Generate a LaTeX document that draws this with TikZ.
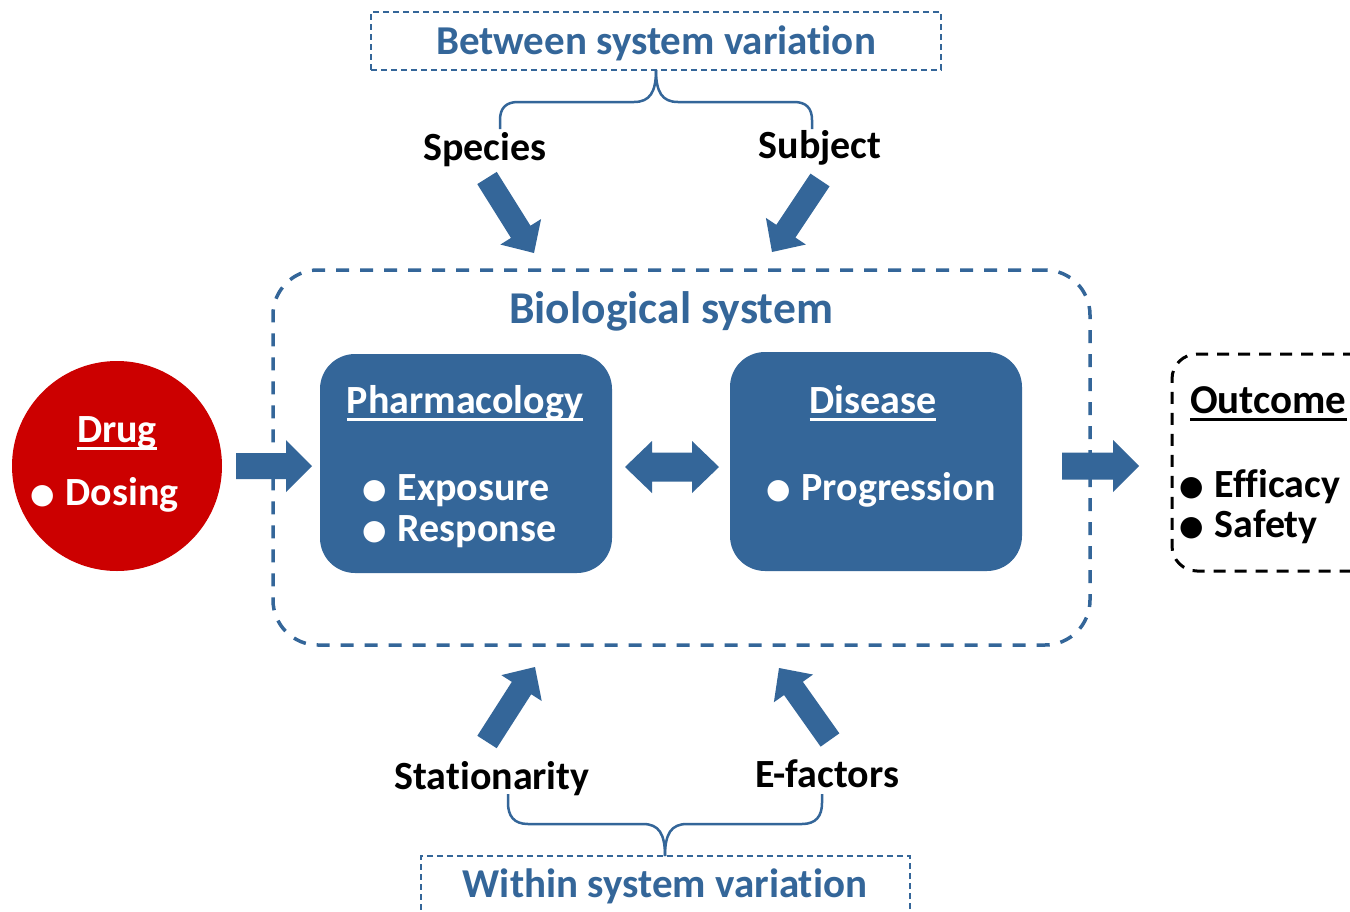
\documentclass[tikz,border=0pt]{standalone}
\usepackage{fontspec}
\setmainfont[Ligatures=NoCommon]{Carlito}
\newfontfamily\symf{DejaVu Sans}
\usetikzlibrary{calc}
\definecolor{sysblue}{RGB}{52,102,153}
\definecolor{drugred}{RGB}{204,0,0}
\newcommand\ulin[1]{\setbox0=\hbox{#1}\rlap{\rule[-0.2em]{\wd0}{0.075em}}\box0}
\newcommand\bul{\raisebox{0.03em}{\symf\fontsize{28}{28}\selectfont ●}\hspace{11pt}}
\newcommand\blockarrow[5]{%
  \coordinate (ba-n) at ($(#2)!#5!(#1)$);
  \fill[sysblue] ($(#1)!#3!90:(#2)$) -- ($(ba-n)!#3!90:(#2)$) -- ($(ba-n)!#4!90:(#2)$) -- (#2)
    -- ($(ba-n)!#4!-90:(#2)$) -- ($(ba-n)!#3!-90:(#2)$) -- ($(#1)!#3!-90:(#2)$) -- cycle;}
\newcommand\dblarrow[5]{%
  \coordinate (da-a) at ($(#1)!#5!(#2)$);
  \coordinate (da-b) at ($(#2)!#5!(#1)$);
  \fill[sysblue] (#1) -- ($(da-a)!#4!90:(#2)$) -- ($(da-a)!#3!90:(#2)$) -- ($(da-b)!#3!-90:(#1)$)
    -- ($(da-b)!#4!-90:(#1)$) -- (#2) -- ($(da-b)!#4!90:(#1)$) -- ($(da-b)!#3!90:(#1)$)
    -- ($(da-a)!#3!-90:(#2)$) -- ($(da-a)!#4!-90:(#2)$) -- cycle;}
\tikzset{
  txt/.style={inner sep=0pt, anchor=base, font=\fontsize{40}{48}\selectfont\bfseries},
  txtl/.style={txt, anchor=base west},
  title/.style={txt, text=sysblue, font=\fontsize{41}{48}\selectfont\bfseries},
  varbox/.style={draw=sysblue, line width=1.5pt, dash pattern=on 6pt off 4pt, inner sep=0pt},
  brace/.style={draw=sysblue, line width=2.5pt},
  fbox/.style={fill=sysblue, rounded corners=35pt, inner sep=0pt, minimum width=292pt, minimum height=219pt},
}
\begin{document}
\begin{tikzpicture}[x=1pt,y=-1pt]
\clip (0,0) rectangle (1350,911);
\fill[white] (0,0) rectangle (1350,911);
% top variation box
\node[varbox, minimum width=570pt, minimum height=58pt] (between) at (656,41) {};
\node[title] (betweent) at (656,54) {Between system variation};
% bottom variation box
\node[varbox, minimum width=489pt, minimum height=74pt] (within) at (665.5,893) {};
\node[title] (withint) at (665,897) {Within system variation};
% biological system
\node[draw=sysblue, line width=3.5pt, dash pattern=on 13pt off 11pt, rounded corners=45pt,
      minimum width=817pt, minimum height=375pt, inner sep=0pt] (bio) at (681.5,457.5) {};
\node[title, font=\fontsize{45.5}{52}\selectfont\bfseries] (biot) at (671,323) {Biological system};
% pharmacology and disease
\node[fbox] (pharm) at (466,463.5) {};
\node[txt, text=white] (pharmt) at (465,413) {\ulin{Pharmacology}};
\node[txtl, text=white] (expo) at (362,500) {\bul Exposure};
\node[txtl, text=white] (resp) at (362,541) {\bul Response};
\node[fbox] (dis) at (876,461.5) {};
\node[txt, text=white] (dist) at (873,413) {\ulin{Disease}};
\node[txtl, text=white] (prog) at (766,500) {\bul Progression};
% drug
\node[circle, fill=drugred, minimum size=210pt, inner sep=0pt] (drug) at (117,466) {};
\node[txt, text=white] (drugt) at (117,442) {\ulin{Drug}};
\node[txtl, text=white] (dose) at (30,505) {\bul Dosing};
% outcome
\node[draw=black, line width=3pt, dash pattern=on 12pt off 9pt, rounded corners=25pt,
      minimum width=208pt, minimum height=217pt, inner sep=0pt] (out) at (1276,462.5) {};
\node[txtl, font=\fontsize{41}{48}\selectfont\bfseries] (outt) at (1190,413) {\ulin{Outcome}};
\node[txtl] (eff) at (1179,497) {\bul Efficacy};
\node[txtl] (saf) at (1179,537) {\bul Safety};
% variation labels
\node[txt] (species) at (485,160) {Species};
\node[txt] (subject) at (820,158) {Subject};
\node[txt] (stat) at (492,789) {Stationarity};
\node[txt] (efac) at (827,787) {E-factors};
% braces
\coordinate (tb-l) at (500,129);
\coordinate (tb-r) at (812,129);
\coordinate (tb-c) at (656,70);
\draw[brace] (tb-l) -- (500,120) .. controls (500,108) and (506,102) .. (518,102) -- (634,102)
  .. controls (650,102) and (656,92) .. (tb-c);
\draw[brace] (tb-r) -- (812,120) .. controls (812,108) and (806,102) .. (794,102) -- (678,102)
  .. controls (662,102) and (656,92) .. (tb-c);
\coordinate (bb-l) at (508,794);
\coordinate (bb-r) at (822,794);
\coordinate (bb-c) at (665,856);
\draw[brace] (bb-l) -- (508,803) .. controls (508,816) and (514,824) .. (528,824) -- (643,824)
  .. controls (659,824) and (665,834) .. (bb-c);
\draw[brace] (bb-r) -- (822,803) .. controls (822,816) and (816,824) .. (802,824) -- (687,824)
  .. controls (671,824) and (665,834) .. (bb-c);
% block arrows
\coordinate (a1t) at (236,466); \coordinate (a1h) at (312,466);
\blockarrow{a1t}{a1h}{13pt}{26pt}{26pt}
\coordinate (a2t) at (1062,466); \coordinate (a2h) at (1139,466);
\blockarrow{a2t}{a2h}{13.5pt}{26pt}{26pt}
\coordinate (d1) at (625,467); \coordinate (d2) at (719,467);
\dblarrow{d1}{d2}{14.5pt}{26pt}{27pt}
\coordinate (s1t) at (487,178); \coordinate (s1h) at (534,253);
\blockarrow{s1t}{s1h}{11.5pt}{24pt}{25pt}
\coordinate (s2t) at (820,180); \coordinate (s2h) at (772,252);
\blockarrow{s2t}{s2h}{11.5pt}{24pt}{25pt}
\coordinate (s3t) at (487,742); \coordinate (s3h) at (535,667);
\blockarrow{s3t}{s3h}{11.5pt}{24pt}{25pt}
\coordinate (s4t) at (830,740); \coordinate (s4h) at (779,668);
\blockarrow{s4t}{s4h}{11.5pt}{24pt}{25pt}
\end{tikzpicture}
\end{document}
